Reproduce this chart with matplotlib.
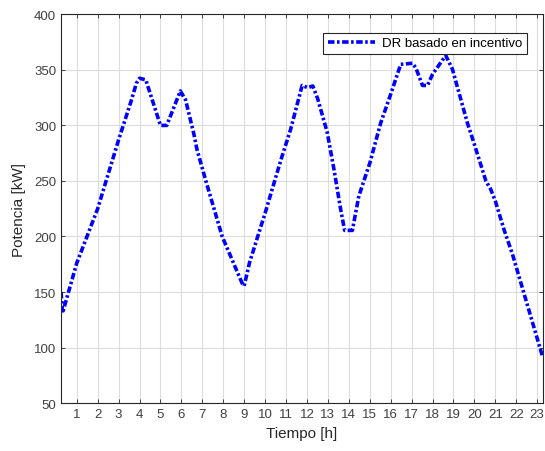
import matplotlib
matplotlib.use("Agg")
import matplotlib.pyplot as plt
import numpy as np

plt.rcParams['font.family'] = ['Liberation Sans', 'DejaVu Sans']

# hours and power
tiempo = [0.25, 0.32, 1.0, 2.0, 3.0, 3.6, 3.85, 4.0, 4.3, 5.0, 5.3, 5.95, 6.2,
          6.6, 6.75, 7.17, 7.95, 8.9, 9.0, 9.25, 9.78, 10.0, 10.74, 11.22,
          11.77, 12.03, 12.28, 12.52, 12.97, 13.29, 13.61, 13.8, 14.17, 14.48,
          15.01, 15.52, 16.0, 16.48, 17.04, 17.2, 17.52, 17.76, 18.0, 18.63,
          18.95, 19.67, 20.0, 20.55, 20.78, 21.0, 21.42, 21.82, 22.35, 23.13,
          23.27]
potencia = [150, 131, 176, 225, 287, 322, 338, 342.5, 341, 300, 300, 331, 323,
            292, 278, 250, 200, 158, 155.5, 176, 208, 221, 268, 296.5,
            336, 334, 335.5, 323.6, 293.6, 260.5, 224.4, 205.5, 205.5, 236.5,
            266.5, 302, 328, 355, 356, 352, 336, 336, 346, 363,
            350.7, 302, 283, 250, 242.5, 232, 206, 184, 150, 100,
            91]
xticks = list(range(1, 24))
yticks = list(range(50, 401, 50))

fig = plt.figure(figsize=(5.45, 4.52), dpi=100)
ax = fig.add_axes([0.112, 0.106, 0.884, 0.860])

ax.plot(tiempo, potencia, color='#0000ff', linestyle=(0, (1.8, 0.7, 0.7, 0.7)),
        linewidth=2.6, label='DR basado en incentivo')

ax.set_xlim(0.25, 23.27)
ax.set_ylim(50, 400)
ax.set_xticks(xticks)
ax.set_yticks(yticks)
ax.grid(True, color='#dcdcdc', linewidth=0.8)
ax.set_axisbelow(True)
ax.tick_params(direction='in', top=True, right=True, length=3, width=0.6,
               colors='#262626', labelsize=9.5, labelcolor='#404040')
for s in ax.spines.values():
    s.set_color('#262626')
    s.set_linewidth(0.8)

ax.set_xlabel('Tiempo [h]', fontsize=11, color='#262626', labelpad=4)
ax.set_ylabel('Potencia [kW]', fontsize=11, color='#262626', labelpad=6)

leg = ax.legend(loc='upper right', fontsize=9.5, fancybox=False, framealpha=1,
                edgecolor='#262626', borderpad=0.35, handlelength=3.6,
                handletextpad=0.5, bbox_to_anchor=(0.98, 0.97))
leg.get_frame().set_linewidth(0.8)

fig.savefig('out.png', dpi=100)
